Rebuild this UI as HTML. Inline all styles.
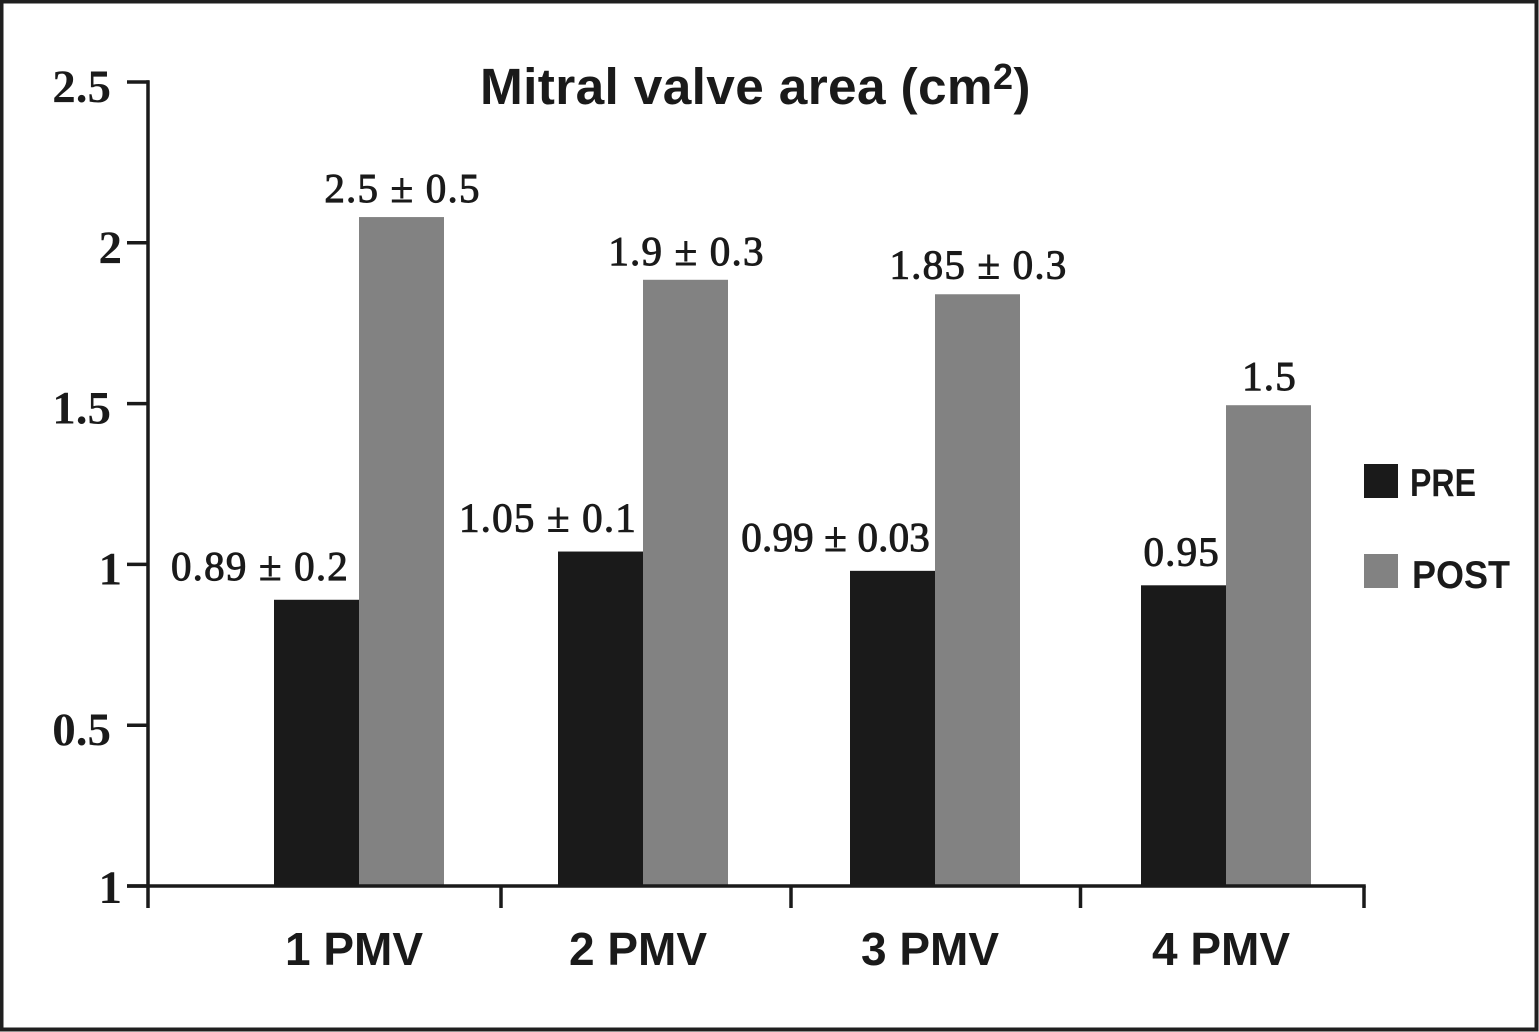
<!DOCTYPE html>
<html>
<head>
<meta charset="utf-8">
<title>Mitral valve area</title>
<style>
html,body{margin:0;padding:0;background:#fff}
svg{display:block}
.num{font-family:"Liberation Serif",serif;fill:#1a1a1a;stroke:#1a1a1a;stroke-width:1px}
.tick{font-family:"Liberation Serif",serif;font-weight:bold;fill:#1a1a1a}
.lab{font-family:"Liberation Sans",sans-serif;font-weight:bold;fill:#1a1a1a}
</style>
</head>
<body>
<svg id="chart" width="1539" height="1032" viewBox="0 0 1539 1032" xmlns="http://www.w3.org/2000/svg">
  <rect x="1.5" y="1.5" width="1535" height="1028" fill="#fff" stroke="#1f1f1f" stroke-width="4"/>
  <text class="lab" x="480" y="104" font-size="51.4" letter-spacing="0.35">Mitral valve area (cm<tspan font-size="36" dy="-15">2</tspan><tspan dy="15">)</tspan></text>
  <g id="marks"></g>
  <rect x="1364" y="464" width="34" height="34" fill="#1a1a1a"/>
  <text class="lab" x="1410" y="496" font-size="39" textLength="66" lengthAdjust="spacingAndGlyphs">PRE</text>
  <rect x="1364" y="554" width="34" height="34" fill="#828282"/>
  <text class="lab" x="1412" y="588" font-size="39" textLength="98" lengthAdjust="spacingAndGlyphs">POST</text>
</svg>
<script>
const categories = ["1 PMV", "2 PMV", "3 PMV", "4 PMV"];
const preValues = [0.89, 1.04, 0.98, 0.935];
const postValues = [2.08, 1.885, 1.84, 1.495];
const preLabels = ["0.89 ± 0.2", "1.05 ± 0.1", "0.99 ± 0.03", "0.95"];
const postLabels = ["2.5 ± 0.5", "1.9 ± 0.3", "1.85 ± 0.3", "1.5"];
const yTickValues = [0, 0.5, 1, 1.5, 2, 2.5];
const yTickLabels = ["1", "0.5", "1", "1.5", "2", "2.5"];

const NS = "http://www.w3.org/2000/svg";
const root = document.getElementById("marks");
const INK = "#1a1a1a", GREY = "#828282";
const BAR_W = 85, BASE = 886, PX_PER_UNIT = 321.6;

function yScale(v) { return BASE - v * PX_PER_UNIT; }
function xCenter(i) {
  const nudge = i === 1 ? -5 : i === 2 ? -2 : 0;
  return 359 + 289 * i + nudge;
}
function spacingFor(label) { return label.length > 10 ? 0.2 : 1.2; }
function make(tag, attrs, parent) {
  const el = document.createElementNS(NS, tag);
  for (const k in attrs) el.setAttribute(k, attrs[k]);
  parent.appendChild(el);
  return el;
}

categories.forEach(function (cat, i) {
  const c = xCenter(i);

  const pre = make("rect", { x: c - BAR_W, y: yScale(preValues[i]), width: BAR_W, height: BASE - yScale(preValues[i]), fill: INK }, root);
  
  

  const post = make("rect", { x: c, y: yScale(postValues[i]), width: BAR_W, height: BASE - yScale(postValues[i]), fill: GREY }, root);
  
  

  const preText = make("text", { x: c - (i === 0 ? 10 : i === 2 ? 5 : 6), y: yScale(preValues[i]) - 20, "text-anchor": "end", "font-size": 41, "letter-spacing": spacingFor(preLabels[i]), "class": "num" }, root);
  preText.textContent = preLabels[i];
  
  

  const postText = make("text", { x: c + BAR_W / 2 + 1, y: yScale(postValues[i]) - (i === 2 ? 16 : 15), "text-anchor": "middle", "font-size": 41, "letter-spacing": spacingFor(postLabels[i]), "class": "num" }, root);
  postText.textContent = postLabels[i];
  
  

  const catText = make("text", { x: c - 5, y: 965, "text-anchor": "middle", "font-size": 46, "class": "lab" }, root);
  catText.textContent = cat;
  
  

  if (i < categories.length - 1) {
    const boundary = (c + xCenter(i + 1)) / 2 + (i === 1 ? 2 : 0);
    const xt = make("line", { x1: boundary, x2: boundary, y1: BASE, y2: 908, stroke: INK, "stroke-width": 3.5 }, root);
    
    
  }
});

yTickValues.forEach(function (v, i) {
  const y = yScale(v);
  const t = make("line", { x1: 127, x2: 149, y1: y, y2: y, stroke: INK, "stroke-width": 3.5 }, root);
  
  

  const label = yTickLabels[i];
  const tl = make("text", { x: label.indexOf(".") >= 0 ? 111 : 122, y: y + (i === 0 ? 17 : 20), "text-anchor": "end", "font-size": 47, "class": "tick" }, root);
  tl.textContent = label;
  
  
});

const yAxis = make("line", { x1: 148, x2: 148, y1: yScale(2.5) - 1.75, y2: 908, stroke: INK, "stroke-width": 3.5 }, root);



const xAxis = make("line", { x1: 127, x2: 1365.75, y1: BASE, y2: BASE, stroke: INK, "stroke-width": 3.5 }, root);



const xEnd = make("line", { x1: 1364, x2: 1364, y1: BASE, y2: 908, stroke: INK, "stroke-width": 3.5 }, root);


</script>
</body>
</html>
